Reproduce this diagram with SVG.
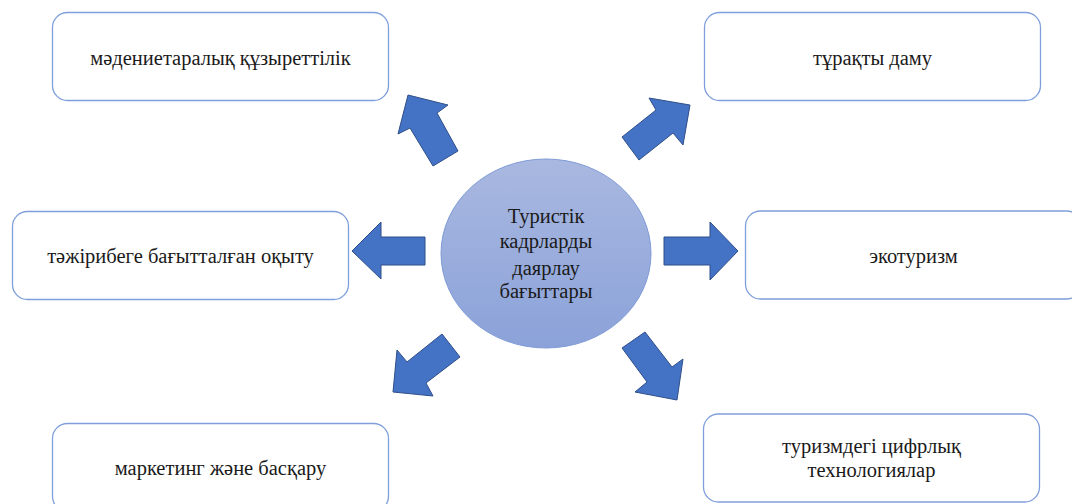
<svg xmlns="http://www.w3.org/2000/svg" width="1072" height="504" viewBox="0 0 1072 504">
  <style>
    .box { fill: #ffffff; stroke: #7F9FDC; stroke-width: 1.3; }
    .lbl { font-family: "Liberation Serif", "Times New Roman", serif; font-size: 20.5px; fill: #1a1a1a; text-anchor: middle; }
    .ctr { font-family: "Liberation Serif", "Times New Roman", serif; font-size: 20.5px; fill: #1a1a1a; text-anchor: middle; }
    .arr { fill: #4472C4; stroke: #2F4F8A; stroke-width: 1; stroke-linejoin: miter; }
  </style>
  <defs>
    <linearGradient id="cg" x1="0" y1="0" x2="0" y2="1">
      <stop offset="0" stop-color="#A9B8E0"/>
      <stop offset="1" stop-color="#8BA2D9"/>
    </linearGradient>
  </defs>
  <rect width="1072" height="504" fill="#ffffff"/>

  <g id="connectors">
    <polygon class="arr" points="408,95 448,105 437,113 458,151 433,166 410,128 398,134"/>
    <polygon class="arr" points="690,105 683,145 673,133 639,160 622,137 656,110 649,98"/>
    <polygon class="arr" points="352,251 381,222 381,237 425,237 425,265 381,265 381,279"/>
    <polygon class="arr" points="738,251 710,222 710,237 664,237 664,265 710,265 710,280"/>
    <polygon class="arr" points="393,392 397,350 407,362 442,334 460,357 426,383 433,396"/>
    <polygon class="arr" points="677,400 683,359 672,367 645,332 622,348 647,382 635,392"/>
  </g>

  <g id="center">
    <ellipse cx="546" cy="253.5" rx="105" ry="94.5" fill="url(#cg)" stroke="#7F9BD6" stroke-width="1"/>
    <text class="ctr" x="546" y="223">Туристік</text>
    <text class="ctr" x="546" y="248">кадрларды</text>
    <text class="ctr" x="546" y="275">даярлау</text>
    <text class="ctr" x="546" y="298">бағыттары</text>
  </g>

  <g id="n1">
    <rect class="box" x="52.5" y="12.5" width="336" height="88" rx="15"/>
    <text class="lbl" x="220.5" y="64.5">мәдениетаралық құзыреттілік</text>
  </g>
  <g id="n2">
    <rect class="box" x="704.5" y="12.5" width="336" height="88" rx="15"/>
    <text class="lbl" x="872.5" y="64.5">тұрақты даму</text>
  </g>
  <g id="n3">
    <rect class="box" x="12.5" y="211.5" width="336" height="88" rx="15"/>
    <text class="lbl" x="180.5" y="263">тәжірибеге бағытталған оқыту</text>
  </g>
  <g id="n4">
    <rect class="box" x="745.5" y="211" width="336" height="88" rx="15"/>
    <text class="lbl" x="913.5" y="263">экотуризм</text>
  </g>
  <g id="n5">
    <rect class="box" x="52.5" y="423.5" width="336" height="88" rx="15"/>
    <text class="lbl" x="220.5" y="475">маркетинг және басқару</text>
  </g>
  <g id="n6">
    <rect class="box" x="703.5" y="414" width="336" height="88" rx="15"/>
    <text class="lbl" x="871.5" y="453">туризмдегі цифрлық</text>
    <text class="lbl" x="871.5" y="477">технологиялар</text>
  </g>
</svg>
